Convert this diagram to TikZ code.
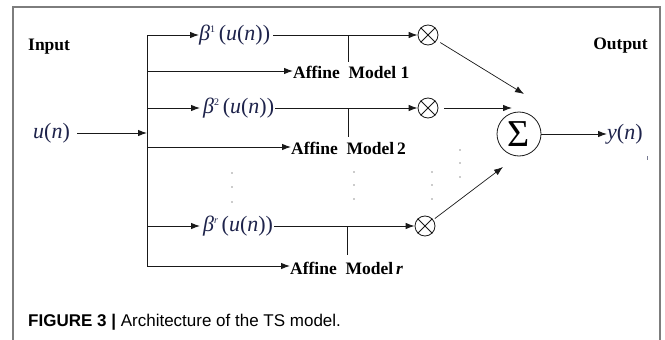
\documentclass[tikz,border=0pt]{standalone}
\usepackage{fontspec}
\setmainfont{Liberation Serif}
\newfontfamily\capfont{Liberation Sans}
\usetikzlibrary{arrows.meta}
\definecolor{framegray}{RGB}{125,125,125}
\definecolor{mathblue}{RGB}{30,35,75}
\definecolor{ink}{RGB}{25,25,25}
\tikzset{
  wire/.style={draw=ink, line width=0.9pt},
  arr/.style={wire, -{Latex[length=9pt,width=6.5pt]}},
  mathlbl/.style={inner sep=0pt, text=mathblue, font=\fontsize{22}{24}\selectfont},
  boldlbl/.style={inner sep=0pt, font=\fontsize{17.5}{20}\selectfont\bfseries},
  mult/.style={circle, draw=ink, line width=0.8pt, minimum size=20pt, inner sep=0pt},
  crossline/.style={draw=ink, line width=0.8pt},
  dotmark/.style={fill=gray!80},
}
\newcommand{\betalbl}[1]{\textit{β}\raisebox{8pt}{\fontsize{10}{10}\selectfont #1}\,(\textit{u}(\textit{n}))}
\begin{document}
\begin{tikzpicture}[x=1pt,y=-1pt]
\useasboundingbox (0,0) rectangle (665,340);
\fill[white] (0,0) rectangle (665,340);
% frame
\draw[framegray, line width=1.2pt] (13,340) -- (13,7) -- (660,7) -- (660,340);

% headings
\node[boldlbl, anchor=base west] (inlbl) at (28,50) {Input};
\node[boldlbl, anchor=base east] (outlbl) at (648,49) {Output};

% input
\node[mathlbl, anchor=west] (u) at (33,133) {\textit{u}(\textit{n})};
\coordinate (bin) at (147,133);
\draw[arr, shorten <=7pt] (u) -- (bin);

% bus
\coordinate (b1) at (147,35);
\coordinate (b2) at (147,71);
\coordinate (b3) at (147,108);
\coordinate (b4) at (147,147);
\coordinate (b5) at (147,226);
\coordinate (b6) at (147,266);
\draw[wire] (b1) -- (b6);

% branch 1
\node[mathlbl, anchor=west] (beta1) at (199,35) {\betalbl{1}};
\node[mult] (m1) at (428,35) {};
\draw[arr] (b1) -- (beta1.west);
\draw[arr, shorten <=3pt] (beta1) -- (m1);
\coordinate (t1a) at (348,35);
\coordinate (t1b) at (348,62);
\draw[wire] (t1a) -- (t1b);
\node[boldlbl, anchor=west] (a1) at (293,72) {Affine\ \ Model 1};
\draw[arr] (b2) -- (b2 -| a1.west);

% branch 2
\node[mathlbl, anchor=west] (beta2) at (203,108) {\betalbl{2}};
\node[mult] (m2) at (428,108) {};
\draw[arr, shorten >=3pt] (b3) -- (beta2.west);
\draw[arr, shorten <=1pt] (beta2) -- (m2);
\coordinate (t2a) at (348,108);
\coordinate (t2b) at (348,137);
\draw[wire] (t2a) -- (t2b);
\node[boldlbl, anchor=west] (a2) at (291,148) {Affine\ \ Model\,2};
\draw[arr] (b4) -- (b4 -| a2.west);

% branch r
\node[mathlbl, anchor=west] (betar) at (203,226) {\betalbl{\textit{r}}};
\node[mult] (mr) at (425,226) {};
\draw[arr, shorten >=3pt] (b5) -- (betar.west);
\draw[arr, shorten <=1pt] (betar) -- (mr);
\coordinate (t3a) at (347,226);
\coordinate (t3b) at (347,255);
\draw[wire] (t3a) -- (t3b);
\node[boldlbl, anchor=west] (ar) at (290,268) {Affine\ \ Model\,\textit{r}};
\draw[arr] (b6) -- (b6 -| ar.west);

% crosses in multipliers
\foreach \m in {m1,m2,mr}{
  \draw[crossline] (\m.45) -- (\m.225);
  \draw[crossline] (\m.135) -- (\m.315);
}

% summation
\node[circle, draw=ink, line width=0.8pt, minimum size=44pt, inner sep=0pt,
      font=\fontsize{38}{38}\selectfont] (sum) at (519,134) {Σ};
\coordinate (s1) at (524,94);
\coordinate (s2) at (512,108);
\coordinate (s3) at (503,167);
\draw[arr, line width=0.7pt, shorten <=4pt] (m1) -- (s1);
\draw[arr, shorten <=6pt] (m2) -- (s2);
\draw[arr, line width=0.7pt, shorten <=2pt] (mr) -- (s3);

% output
\node[mathlbl, anchor=west] (y) at (607,134) {\textit{y}(\textit{n})};
\draw[arr] (sum) -- (y.west);

% dots
\foreach \x/\ya/\yb/\yc in {232/173/187/202, 354/172/185/199, 432/172/185/199, 460/150/163/177}{
  \fill[dotmark] (\x,\ya) circle (0.8pt);
  \fill[dotmark] (\x,\yb) circle (0.8pt);
  \fill[dotmark] (\x,\yc) circle (0.8pt);
}
\draw[mathblue!60, line width=0.8pt] (647,156) -- (647,160);

% caption
\node[anchor=base west, inner sep=0pt, font=\capfont\fontsize{17}{20}\selectfont] (cap)
  at (28,326) {\textbf{FIGURE 3 |} Architecture of the TS model.};
\end{tikzpicture}
\end{document}
